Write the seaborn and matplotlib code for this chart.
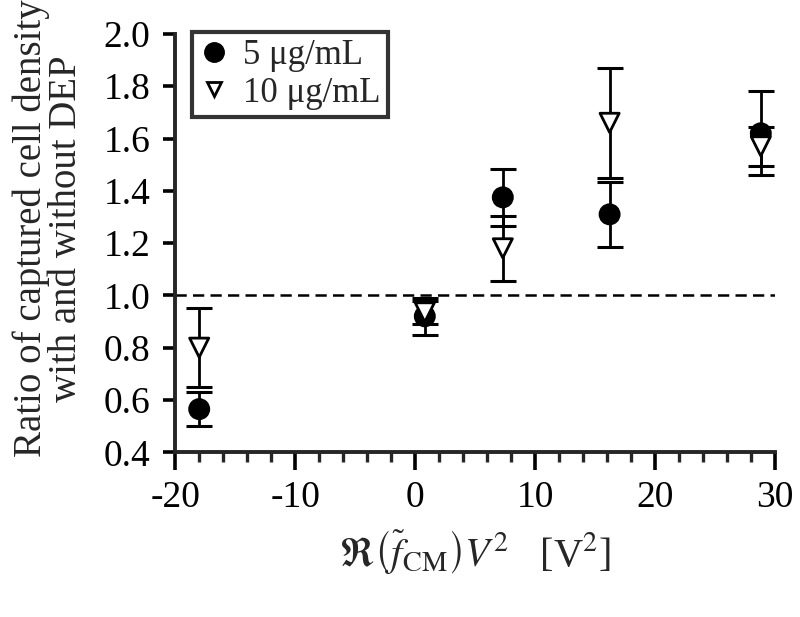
#!/usr/bin/env python3

import seaborn as sns
import matplotlib.pyplot as plt
import pandas as pd
from matplotlib.lines import Line2D
from matplotlib.ticker import MultipleLocator

# values
voltage = [-18.0, 0.8, 7.3, 16.2, 28.8]
ratio_5 = [0.565, 0.92, 1.375, 1.31, 1.62]
err_5 = [0.065, 0.07, 0.11, 0.125, 0.16]
ratio_10 = [0.80, 0.935, 1.18, 1.66, 1.57]
err_10 = [0.15, 0.045, 0.125, 0.21, 0.075]
conc_labels = ['5 \u03bcg/mL', '10 \u03bcg/mL']

df = pd.DataFrame({
    'voltage': voltage * 2,
    'ratio': ratio_5 + ratio_10,
    'err': err_5 + err_10,
    'conc': [conc_labels[0]] * len(voltage) + [conc_labels[1]] * len(voltage),
})

sns.set_style('ticks')
plt.rcParams['font.family'] = ['Liberation Serif', 'DejaVu Serif']
plt.rcParams['mathtext.fontset'] = 'stix'
plt.rcParams['axes.unicode_minus'] = False

fig, ax = plt.subplots(figsize=(8, 6.17), dpi=100)
fig.subplots_adjust(left=0.219, right=0.969, top=0.945, bottom=0.267)

ax.axhline(1.0, color='k', ls=(0, (4.5, 2.5)), lw=1.8, zorder=1)

# error bars first, markers on top
for lab in conc_labels:
    sub = df[df['conc'] == lab]
    ax.errorbar(sub['voltage'], sub['ratio'], yerr=sub['err'], fmt='none',
                ecolor='k', elinewidth=2.0, capsize=9.4, capthick=2.2, zorder=2)

sns.scatterplot(data=df, x='voltage', y='ratio', hue='conc', style='conc',
                markers={conc_labels[0]: 'o', conc_labels[1]: 'v'},
                palette={conc_labels[0]: 'black', conc_labels[1]: 'white'},
                edgecolor='black', linewidth=2.0, s=190, legend=False,
                zorder=3, ax=ax)

ax.set_xlim(-20, 30)
ax.set_ylim(0.4, 2.0)
ax.xaxis.set_major_locator(MultipleLocator(10))
ax.xaxis.set_minor_locator(MultipleLocator(2))
ax.yaxis.set_major_locator(MultipleLocator(0.2))
ax.yaxis.set_major_formatter(plt.FormatStrFormatter('%.1f'))

sns.despine(ax=ax)
for sp in ['left', 'bottom']:
    ax.spines[sp].set_linewidth(2.8)
ax.tick_params(axis='x', which='major', length=13, width=2.6, pad=7,
               labelsize=27, colors='black')
ax.tick_params(axis='x', which='minor', length=7, width=2.4)
ax.tick_params(axis='y', which='major', length=9, width=2.6, pad=9,
               labelsize=27, colors='black')

ax.set_xlabel(r'$\Re\left(\widetilde{f}_{\mathrm{CM}}\right)V^2$   [V$^2$]',
              fontsize=29, labelpad=10)
ax.set_ylabel('Ratio of captured cell density\nwith and without DEP',
              fontsize=28, linespacing=0.95)
ax.yaxis.set_label_coords(-0.15, 0.535)

handles = [
    Line2D([], [], ls='none', marker='o', ms=14, mfc='black', mec='black'),
    Line2D([], [], ls='none', marker='v', ms=10, mfc='white', mec='black',
           mew=2.0),
]
leg = ax.legend(handles, conc_labels, loc='upper left',
                bbox_to_anchor=(0.028, 1.005), borderaxespad=0,
                fontsize=25, frameon=True, fancybox=False,
                handlelength=0.8, handletextpad=0.45, borderpad=0.22,
                labelspacing=0.12)
leg.get_frame().set_edgecolor('black')
leg.get_frame().set_linewidth(3)

fig.savefig('out.png', dpi=100)
